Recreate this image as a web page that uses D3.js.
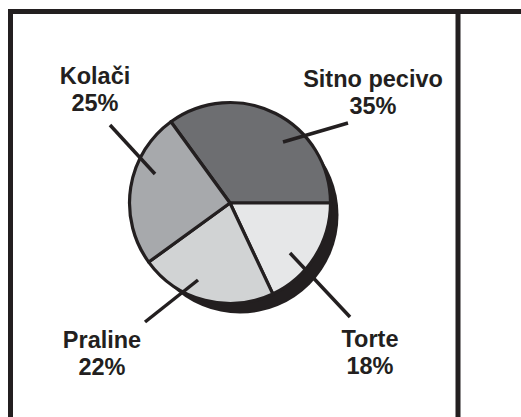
<!DOCTYPE html>
<html>
<head>
<meta charset="utf-8">
<script src="https://cdn.jsdelivr.net/npm/d3@7"></script>
<style>
  html, body { margin: 0; padding: 0; background: #fff; }
  svg { display: block; }
  text { font-family: "Liberation Sans", Arial, Helvetica, sans-serif; font-weight: bold; fill: #231f20; }
</style>
</head>
<body>
<svg id="chart" width="521" height="417"></svg>
<script>
// Product categories and their share of sales (%)
const categories = ["Sitno pecivo", "Torte", "Praline", "Kolači"];
const shares = [35, 18, 22, 25];
const shareLabels = ["35%", "18%", "22%", "25%"];
const fills = ["#6d6e71", "#e6e7e8", "#d1d3d4", "#a7a9ac"];

// Label placement: leader line ends (offsets from the pie centre) and text anchor
const leaderInner = [[53, -62], [60, 49], [-32, 76], [-75, -30]];
const leaderOuter = [[118, -81], [120, 113], [-85, 118], [-120, -79]];
const labelPos = [[373, 87], [370, 347], [102, 348], [95, 84]];

const ink = "#231f20";
const W = 521, H = 417;
const cx = 230, cy = 203, R = 100.5;

const svg = d3.select("#chart");

// Frame: top rule, left rule and the column divider
const frame = svg.append("g").attr("stroke", ink).attr("stroke-width", 5);
frame.append("line").attr("x1", 8).attr("x2", W).attr("y1", 11.5).attr("y2", 11.5);
frame.append("line").attr("x1", 10.5).attr("x2", 10.5).attr("y1", 9).attr("y2", H);
frame.append("line").attr("x1", 458).attr("x2", 458).attr("y1", 9).attr("y2", H);

const data = categories.map((c, i) => ({ name: c, value: shares[i], label: shareLabels[i], fill: fills[i], i }));

const pie = d3.pie()
  .sort(null)
  .value(d => d.value)
  .startAngle(-0.2 * Math.PI)
  .endAngle(1.8 * Math.PI);

const arc = d3.arc().innerRadius(0).outerRadius(R);

const g = svg.append("g").attr("transform", `translate(${cx},${cy})`);

// Dark base giving the disc some depth
g.append("circle")
  .attr("cx", 10).attr("cy", 12)
  .attr("r", R - 2)
  .attr("fill", ink);

g.selectAll("path.slice")
  .data(pie(data))
  .join("path")
  .attr("class", "slice")
  .attr("d", arc)
  .attr("fill", d => d.data.fill)
  .attr("stroke", ink)
  .attr("stroke-width", 3.2)
  .attr("stroke-linejoin", "round");

// Leader lines
g.selectAll("line.leader")
  .data(data)
  .join("line")
  .attr("class", "leader")
  .attr("x1", d => leaderInner[d.i][0]).attr("y1", d => leaderInner[d.i][1] + 1)
  .attr("x2", d => leaderOuter[d.i][0]).attr("y2", d => leaderOuter[d.i][1] + 1)
  .attr("stroke", ink)
  .attr("stroke-width", 3.5);

// Category name and share
const labels = svg.selectAll("g.label")
  .data(data)
  .join("g")
  .attr("class", "label")
  .attr("transform", d => `translate(${labelPos[d.i][0]},${labelPos[d.i][1]})`);

labels.append("text")
  .attr("text-anchor", "middle")
  .attr("font-size", 23.5)
  .text(d => d.name);

labels.append("text")
  .attr("text-anchor", "middle")
  .attr("font-size", 23.5)
  .attr("y", 27)
  .text(d => d.label);
</script>
</body>
</html>
